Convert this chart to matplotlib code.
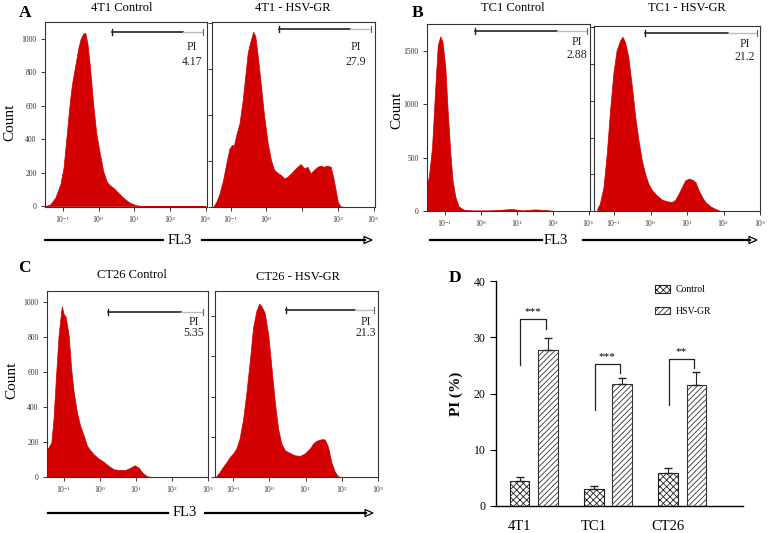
import numpy as np
import matplotlib.pyplot as plt
import matplotlib.transforms as mtransforms
from matplotlib.lines import Line2D
from matplotlib.patches import Polygon
from matplotlib.ticker import NullLocator

plt.rcParams['font.family'] = 'Liberation Serif'
plt.rcParams['mathtext.fontset'] = 'custom'
plt.rcParams['mathtext.rm'] = 'Liberation Serif'
plt.rcParams['mathtext.it'] = 'Liberation Serif:italic'
plt.rcParams['hatch.linewidth'] = 0.6

# ---- histogram data: FL3 position (log10) and count ----
a_ctrl_lg = [-1.49, -1.35, -1.21, -1.07, -0.98, -0.89, -0.81, -0.75, -0.66, -0.56, -0.50, -0.43, -0.37,
             -0.31, -0.24, -0.15, -0.06, 0.04, 0.13, 0.22, 0.31, 0.41, 0.55, 0.69, 0.87, 1.06, 1.24, 3.0]
a_ctrl_n = [0, 10, 50, 130, 230, 430, 610, 720, 830, 950, 1000, 1030, 1035,
            970, 830, 610, 430, 310, 210, 150, 125, 110, 80, 50, 20, 4, 0, 0]

a_hsv_lg = [-1.49, -1.40, -1.31, -1.21, -1.12, -1.03, -0.96, -0.91, -0.84, -0.75, -0.66, -0.59, -0.52, -0.44,
            -0.37, -0.31, -0.24, -0.15, -0.06, 0.04, 0.13, 0.22, 0.31, 0.41, 0.50, 0.59, 0.69, 0.78, 0.87,
            0.96, 1.06, 1.15, 1.24, 1.33, 1.43, 1.52, 1.61, 1.70, 1.80, 1.87, 1.94, 2.00, 2.07, 2.17, 3.0]
a_hsv_n = [0, 22, 58, 117, 190, 255, 270, 266, 314, 365, 467, 569, 672, 723,
           762, 745, 657, 526, 394, 277, 204, 161, 149, 139, 124, 131, 146, 161, 175,
           187, 168, 175, 146, 161, 175, 180, 175, 180, 175, 131, 73, 22, 3, 0, 0]

b_ctrl_lg = [-1.49, -1.44, -1.35, -1.26, -1.19, -1.12, -1.06, -0.98, -0.91, -0.84, -0.78, -0.70, -0.61,
             -0.47, -0.24, 0.22, 0.59, 0.87, 1.15, 1.52, 1.80, 2.07, 3.0]
b_ctrl_n = [254, 316, 595, 1153, 1556, 1634, 1587, 1339, 905, 533, 285, 130, 43,
            12, 6, 6, 12, 19, 6, 15, 9, 0, 0]

b_hsv_lg = [-1.46, -1.39, -1.29, -1.20, -1.11, -1.02, -0.93, -0.83, -0.77, -0.70, -0.61, -0.51, -0.42,
            -0.33, -0.24, -0.15, -0.06, 0.04, 0.17, 0.31, 0.45, 0.59, 0.68, 0.77, 0.86, 0.95, 1.05,
            1.14, 1.23, 1.32, 1.41, 1.50, 1.64, 1.78, 1.92, 3.0]
b_hsv_n = [32, 100, 327, 782, 1373, 1873, 2191, 2327, 2373, 2305, 2100, 1691, 1282,
           964, 691, 509, 373, 282, 214, 155, 132, 123, 155, 236, 327, 418, 441,
           427, 395, 282, 191, 123, 64, 27, 0, 0]

c_ctrl_lg = [-1.46, -1.42, -1.34, -1.28, -1.21, -1.14, -1.07, -1.05, -1.00, -0.94, -0.86, -0.79, -0.72,
             -0.63, -0.54, -0.44, -0.35, -0.26, -0.17, -0.03, 0.11, 0.25, 0.39, 0.53, 0.71, 0.85,
             0.97, 1.08, 1.18, 1.31, 1.45, 2.99]
c_ctrl_n = [158, 168, 196, 330, 577, 806, 939, 973, 930, 911, 806, 615, 482,
            368, 291, 234, 177, 152, 130, 105, 86, 63, 44, 40, 40, 53,
            67, 53, 25, 4, 0, 0]

c_hsv_lg = [-1.46, -1.37, -1.28, -1.18, -1.09, -1.00, -0.91, -0.82, -0.72, -0.63, -0.54, -0.45, -0.36,
            -0.28, -0.22, -0.13, -0.03, 0.06, 0.15, 0.24, 0.33, 0.43, 0.56, 0.70, 0.84, 0.98,
            1.12, 1.21, 1.30, 1.44, 1.53, 1.62, 1.71, 1.81, 1.90, 1.99, 2.99]
c_hsv_n = [5, 25, 50, 75, 100, 117, 142, 192, 292, 425, 575, 742, 825,
           862, 850, 817, 708, 542, 375, 242, 167, 133, 120, 108, 105, 117,
           142, 167, 180, 188, 187, 150, 75, 25, 3, 0, 0]

# ---- bar chart data ----
groups = ['4T1', 'TC1', 'CT26']
ctrl = [4.5, 3.0, 5.8]
ctrl_err = [0.6, 0.55, 0.9]
hsv = [27.7, 21.7, 21.5]
hsv_err = [2.2, 1.0, 2.3]
sig = ['***', '***', '**']
br_left = [25.0, 17.0, 17.9]
br_top = [33.3, 25.3, 26.2]
br_right = [31.5, 23.7, 24.6]

W, H = 768, 533
fig = plt.figure(figsize=(W / 100, H / 100), dpi=100)
red = '#D20000'


def fx(x):
    return x / W


def fy(y):
    return 1 - y / H


def rect(x0, y0, x1, y1):
    return [x0 / W, 1 - y1 / H, (x1 - x0) / W, (y1 - y0) / H]


def hist_panel(box, lg, n, xl, yl, yticks, ylabels, gate, gy, pc, pys, pi, skip=None):
    ax = fig.add_axes(rect(*box))
    x = 10 ** np.array(lg)
    ax.fill_between(x, n, 0, color=red, lw=0.5)
    ax.set_xscale('log')
    ax.set_xlim(10 ** xl[0], 10 ** xl[1])
    ax.set_ylim(*yl)
    ax.xaxis.set_minor_locator(NullLocator())
    xt = [0.1, 1, 10, 100, 1000]
    xlabs = ['$10^{-1}$', '$10^{0}$', '$10^{1}$', '$10^{2}$', '$10^{3}$']
    if skip is not None:
        xlabs[skip] = ''
    ax.set_xticks(xt)
    ax.set_xticklabels(xlabs)
    ax.set_yticks(yticks)
    if ylabels:
        ax.set_yticklabels([str(v) for v in yticks])
    else:
        ax.set_yticklabels([])
    ax.tick_params(length=3, width=0.7, labelsize=5.5, colors='#333333', pad=3)
    ax.tick_params(axis='x', pad=2)
    for s in ax.spines.values():
        s.set_color('#333333')
        s.set_linewidth(0.8)
    tr = mtransforms.blended_transform_factory(ax.transData, ax.transAxes)
    lo, dk, hi = [10 ** g for g in gate]
    ax.plot([lo, dk], [gy, gy], color='#222222', lw=1.2, transform=tr)
    ax.plot([dk, hi], [gy, gy], color='#bbbbbb', lw=1.0, transform=tr)
    ax.plot([lo, lo], [gy - 0.018, gy + 0.018], color='#222222', lw=1.0, transform=tr)
    ax.plot([hi, hi], [gy - 0.018, gy + 0.018], color='#666666', lw=0.8, transform=tr)
    ax.text(10 ** pc, pys[0], 'PI', ha='center', va='center', fontsize=8.5, transform=tr, color='#222222')
    ax.text(10 ** pc, pys[1], pi, ha='center', va='center', fontsize=8.5, transform=tr, color='#222222')
    return ax


hist_panel((45, 22, 207, 207), a_ctrl_lg, a_ctrl_n, (-1.50, 3.04), (-6, 1100), [0, 200, 400, 600, 800, 1000], True,
           (0.38, 2.36, 2.92), 0.946, 2.62, (0.865, 0.784), '4.17')
hist_panel((212, 22, 375, 207), a_hsv_lg, a_hsv_n, (-1.52, 3.04), (0, 805), [0, 200, 400, 600, 800], False,
           (0.35, 2.34, 2.92), 0.962, 2.50, (0.865, 0.784), '27.9', skip=2)
hist_panel((427, 24, 590, 211), b_ctrl_lg, b_ctrl_n, (-1.49, 3.04), (0, 1750), [0, 500, 1000, 1500], True,
           (-0.16, 2.12, 2.95), 0.963, 2.68, (0.904, 0.834), '2.88')
hist_panel((594, 26, 760, 211), b_hsv_lg, b_hsv_n, (-1.55, 3.0), (0, 2520), [0, 500, 1000, 1500, 2000, 2500], False,
           (-0.15, 2.12, 2.92), 0.963, 2.59, (0.904, 0.834), '21.2')
hist_panel((47, 291, 208, 477), c_ctrl_lg, c_ctrl_n, (-1.46, 2.99), (0, 1060), [0, 200, 400, 600, 800, 1000], True,
           (0.22, 2.26, 2.87), 0.887, 2.60, (0.833, 0.774), '5.35')
hist_panel((215, 291, 378, 477), c_hsv_lg, c_hsv_n, (-1.50, 2.99), (0, 925), [0, 200, 400, 600, 800], False,
           (0.45, 2.36, 2.88), 0.898, 2.66, (0.833, 0.774), '21.3')

# titles, letters, axis labels
titles = [('4T1 Control', 122, 8), ('4T1 - HSV-GR', 293, 8), ('TC1 Control', 513, 8), ('TC1 - HSV-GR', 687, 8),
          ('CT26 Control', 132, 275), ('CT26 - HSV-GR', 298, 277)]
for t, x, y in titles:
    fig.text(fx(x), fy(y), t, ha='center', va='center', fontsize=9)
for t, x, y in [('A', 25, 13), ('B', 418, 13), ('C', 24, 268), ('D', 455, 278)]:
    fig.text(fx(x), fy(y), t, ha='center', va='center', fontsize=12.5, fontweight='bold')
for x, y in [(10, 122), (397, 110), (12, 380)]:
    fig.text(fx(x), fy(y), 'Count', ha='center', va='center', fontsize=11, rotation=90)


def fl3_arrow(x0, x1, xtext, x2, x3, y):
    # FL3 axis label with an open arrow head at the right end
    fig.add_artist(Line2D([fx(x0), fx(x1)], [fy(y), fy(y)], color='black', lw=1.6))
    fig.add_artist(Line2D([fx(x2), fx(x3 - 7)], [fy(y), fy(y)], color='black', lw=1.6))
    head = Polygon([[fx(x3 - 8), fy(y - 3.5)], [fx(x3), fy(y)], [fx(x3 - 8), fy(y + 3.5)]], closed=True,
                   transform=fig.transFigure, fc='white', ec='black', lw=0.9)
    fig.add_artist(head)
    fig.text(fx(xtext), fy(y), 'FL3', ha='center', va='center', fontsize=10.5)


fl3_arrow(45, 163, 180, 202, 372, 240)
fl3_arrow(430, 542, 556, 583, 757, 240)
fl3_arrow(48, 168, 185, 205, 373, 513)

# ---- panel D ----
axd = fig.add_axes(rect(496, 281, 743, 506))
idx = np.arange(len(groups))
off, w = 0.19, 0.26
b1 = axd.bar(idx - off, ctrl, w, color='white', edgecolor='#222222', hatch='xxxxx', lw=0.8, label='Control')
b2 = axd.bar(idx + off, hsv, w, color='white', edgecolor='#333333', hatch='//////', lw=0.8, label='HSV-GR')
axd.errorbar(idx - off, ctrl, yerr=[np.zeros(3), ctrl_err], fmt='none', ecolor='#222222', capsize=3, lw=0.8)
axd.errorbar(idx + off, hsv, yerr=[np.zeros(3), hsv_err], fmt='none', ecolor='#222222', capsize=3, lw=0.8)
for i in range(len(groups)):
    xl, xr = idx[i] - off + 0.01, idx[i] + off - 0.03
    axd.plot([xl, xl, xr, xr], [br_left[i], br_top[i], br_top[i], br_right[i]], color='#222222', lw=0.9)
    axd.text((xl + xr) / 2, br_top[i] + 1.3, sig[i], ha='center', va='center', fontsize=8)
axd.set_xlim(-0.51, 2.82)
axd.set_ylim(0, 40)
axd.set_yticks([0, 10, 20, 30, 40])
axd.set_xticks(idx - off)
axd.set_xticklabels(groups, fontsize=10.5)
axd.tick_params(axis='x', length=0, pad=10)
axd.tick_params(axis='y', length=4, labelsize=8.5, direction='out')
axd.spines['top'].set_visible(False)
axd.spines['right'].set_visible(False)
axd.spines['left'].set_linewidth(1.0)
axd.spines['bottom'].set_linewidth(1.0)
axd.set_ylabel('PI (%)', fontsize=11, fontweight='bold', labelpad=8)
axd.legend(handles=[b1, b2], loc='upper left', bbox_to_anchor=(0.61, 1.02), frameon=False, fontsize=7,
           handlelength=1.5, handleheight=0.8, labelspacing=1.3, handletextpad=0.6)

fig.savefig('out.png', dpi=100)
